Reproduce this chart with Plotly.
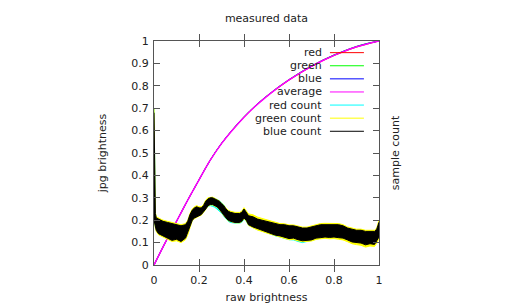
import plotly.graph_objects as go

# ---- data -------------------------------------------------------------
curve_x = [0, 0.05, 0.1, 0.15, 0.2, 0.25, 0.3, 0.35, 0.4, 0.45, 0.5,
           0.55, 0.6, 0.65, 0.7, 0.75, 0.8, 0.85, 0.9, 0.95, 1.0]
red_y = [0, 0.10, 0.195, 0.29, 0.38, 0.468, 0.542, 0.604, 0.66, 0.709, 0.752,
         0.79, 0.825, 0.857, 0.886, 0.912, 0.935, 0.955, 0.973, 0.987, 1.0]
green_y = [0, 0.10, 0.195, 0.29, 0.381, 0.469, 0.543, 0.606, 0.662, 0.711, 0.754,
           0.793, 0.828, 0.86, 0.889, 0.915, 0.938, 0.958, 0.976, 0.99, 1.0]
blue_y = [0, 0.10, 0.195, 0.29, 0.38, 0.468, 0.543, 0.605, 0.661, 0.71, 0.753,
          0.792, 0.827, 0.859, 0.888, 0.914, 0.937, 0.957, 0.975, 0.989, 1.0]
avg_y = [0, 0.10, 0.195, 0.29, 0.38, 0.468, 0.542, 0.604, 0.66, 0.709, 0.752,
         0.791, 0.826, 0.858, 0.887, 0.913, 0.936, 0.956, 0.974, 0.988, 1.0]

count_x = [0.0, 0.003, 0.006, 0.01, 0.02, 0.04, 0.06, 0.08, 0.1, 0.12, 0.14,
           0.15, 0.16, 0.17, 0.18, 0.19, 0.2, 0.21, 0.22, 0.23, 0.24, 0.25,
           0.26, 0.27, 0.28, 0.29, 0.3, 0.31, 0.32, 0.33, 0.34, 0.36, 0.38,
           0.39, 0.4, 0.41, 0.42, 0.44, 0.46, 0.48, 0.5, 0.52, 0.54, 0.56,
           0.58, 0.6, 0.62, 0.64, 0.66, 0.68, 0.7, 0.72, 0.74, 0.76, 0.78,
           0.8, 0.82, 0.84, 0.86, 0.88, 0.9, 0.92, 0.94, 0.96, 0.98, 0.99, 1.0]

blue_lo = [0.20, 0.19, 0.17, 0.155, 0.14, 0.13, 0.12, 0.11, 0.115, 0.105, 0.12,
           0.14, 0.17, 0.2, 0.21, 0.215, 0.22, 0.225, 0.235, 0.25, 0.265, 0.27,
           0.27, 0.265, 0.26, 0.25, 0.24, 0.225, 0.21, 0.2, 0.195, 0.19, 0.19,
           0.195, 0.21, 0.2, 0.18, 0.17, 0.16, 0.155, 0.148, 0.14, 0.133, 0.13,
           0.125, 0.118, 0.12, 0.113, 0.108, 0.11, 0.112, 0.12, 0.122, 0.125, 0.123,
           0.125, 0.122, 0.12, 0.112, 0.103, 0.1, 0.098, 0.09, 0.095, 0.092, 0.105, 0.125]
blue_hi = [0.68, 0.45, 0.23, 0.21, 0.205, 0.195, 0.19, 0.185, 0.18, 0.175, 0.18,
           0.195, 0.225, 0.245, 0.255, 0.26, 0.255, 0.255, 0.265, 0.285, 0.295, 0.3,
           0.3, 0.295, 0.29, 0.285, 0.275, 0.265, 0.25, 0.24, 0.235, 0.23, 0.23,
           0.235, 0.25, 0.235, 0.22, 0.215, 0.205, 0.2, 0.195, 0.19, 0.185, 0.18,
           0.18, 0.175, 0.175, 0.17, 0.165, 0.165, 0.17, 0.175, 0.18, 0.18, 0.18,
           0.18, 0.18, 0.175, 0.165, 0.16, 0.155, 0.155, 0.15, 0.15, 0.15, 0.16, 0.19]

red_lo = [0.21, 0.20, 0.17, 0.155, 0.14, 0.13, 0.12, 0.115, 0.115, 0.11, 0.12,
          0.14, 0.17, 0.2, 0.21, 0.215, 0.22, 0.225, 0.235, 0.25, 0.262, 0.265,
          0.262, 0.258, 0.25, 0.242, 0.232, 0.218, 0.205, 0.195, 0.19, 0.187, 0.187,
          0.19, 0.205, 0.195, 0.178, 0.168, 0.158, 0.152, 0.145, 0.138, 0.13, 0.125,
          0.12, 0.113, 0.112, 0.105, 0.1, 0.103, 0.108, 0.115, 0.12, 0.122, 0.12,
          0.122, 0.12, 0.118, 0.11, 0.103, 0.1, 0.097, 0.092, 0.094, 0.092, 0.105, 0.125]
red_hi = [0.70, 0.45, 0.23, 0.21, 0.205, 0.195, 0.19, 0.185, 0.18, 0.175, 0.18,
          0.195, 0.225, 0.245, 0.255, 0.26, 0.255, 0.257, 0.267, 0.287, 0.297, 0.3,
          0.3, 0.297, 0.292, 0.287, 0.278, 0.268, 0.252, 0.242, 0.236, 0.23, 0.23,
          0.235, 0.25, 0.235, 0.22, 0.213, 0.203, 0.198, 0.193, 0.188, 0.182, 0.178,
          0.177, 0.172, 0.172, 0.168, 0.163, 0.163, 0.168, 0.173, 0.178, 0.178, 0.178,
          0.178, 0.178, 0.173, 0.163, 0.158, 0.153, 0.153, 0.148, 0.148, 0.148, 0.158, 0.19]

green_lo = [0.21, 0.19, 0.165, 0.15, 0.135, 0.125, 0.115, 0.105, 0.108, 0.1, 0.113,
            0.135, 0.165, 0.197, 0.207, 0.212, 0.218, 0.222, 0.233, 0.248, 0.263, 0.268,
            0.268, 0.263, 0.258, 0.248, 0.238, 0.223, 0.208, 0.198, 0.193, 0.188, 0.188,
            0.193, 0.207, 0.197, 0.177, 0.166, 0.156, 0.15, 0.143, 0.135, 0.128, 0.124,
            0.119, 0.113, 0.114, 0.108, 0.104, 0.105, 0.107, 0.114, 0.117, 0.119, 0.117,
            0.118, 0.115, 0.112, 0.104, 0.095, 0.091, 0.088, 0.08, 0.085, 0.083, 0.097, 0.12]
green_hi = [0.70, 0.47, 0.235, 0.215, 0.21, 0.2, 0.195, 0.19, 0.185, 0.18, 0.185,
            0.2, 0.23, 0.25, 0.26, 0.265, 0.26, 0.26, 0.27, 0.29, 0.3, 0.303,
            0.303, 0.298, 0.292, 0.286, 0.276, 0.267, 0.253, 0.244, 0.24, 0.235, 0.235,
            0.24, 0.256, 0.243, 0.228, 0.224, 0.214, 0.208, 0.202, 0.196, 0.19, 0.185,
            0.184, 0.179, 0.179, 0.174, 0.169, 0.169, 0.174, 0.18, 0.185, 0.186, 0.186,
            0.186, 0.185, 0.18, 0.17, 0.165, 0.16, 0.16, 0.155, 0.155, 0.155, 0.165, 0.2]

legend_names = ["red", "green", "blue", "average",
                "red count", "green count", "blue count"]
legend_colors = ["#ff0000", "#00ff00", "#0000ff", "#ff00ff",
                 "#00ffff", "#ffff00", "#000000"]

x_ticks = [0, 0.2, 0.4, 0.6, 0.8, 1.0]
x_ticktext = ["0", "0.2", "0.4", "0.6", "0.8", "1"]
y_ticks = [0, 0.1, 0.2, 0.3, 0.4, 0.5, 0.6, 0.7, 0.8, 0.9, 1.0]
y_ticktext = ["0", "0.1", "0.2", "0.3", "0.4", "0.5", "0.6", "0.7", "0.8", "0.9", "1"]

# ---- figure -----------------------------------------------------------
FONT = "DejaVu Sans"
AX = "#555555"
TXT = "#222222"
fig = go.Figure()

def band(lo, hi, color):
    fig.add_trace(go.Scatter(
        x=count_x + count_x[::-1], y=hi + lo[::-1], mode="lines",
        fill="toself", fillcolor=color, line=dict(color=color, width=1),
        yaxis="y2", showlegend=False, hoverinfo="skip"))

band(red_lo, red_hi, legend_colors[4])
band(green_lo, green_hi, legend_colors[5])
band(blue_lo, blue_hi, legend_colors[6])

for ys, col, w in [(red_y, legend_colors[0], 1), (green_y, legend_colors[1], 1),
                   (blue_y, legend_colors[2], 1), (avg_y, legend_colors[3], 1.5)]:
    fig.add_trace(go.Scatter(x=curve_x, y=ys, mode="lines", line=dict(color=col, width=w),
                             line_shape="spline", showlegend=False))

# gnuplot-style key: text right-aligned, sample line on its right
annotations = []
shapes = []
row0, step = 0.948, 0.0585
for i, (name, col) in enumerate(zip(legend_names, legend_colors)):
    yy = row0 - i * step
    annotations.append(dict(xref="paper", yref="paper", x=0.757, y=yy, text=name,
                            showarrow=False, xanchor="right", yanchor="middle",
                            font=dict(family=FONT, size=11, color=TXT)))
    shapes.append(dict(type="line", xref="paper", yref="paper", x0=0.782, x1=0.933,
                       y0=yy, y1=yy, line=dict(color=col, width=1)))

axis_common = dict(showline=True, linecolor=AX, linewidth=1, ticks="inside", ticklen=6,
                   tickcolor=AX, showgrid=False, zeroline=False, mirror="allticks",
                   automargin=False, tickfont=dict(family=FONT, size=11, color=TXT))

fig.update_layout(
    width=512, height=307,
    margin=dict(l=154, r=133, t=41, b=42, autoexpand=False),
    paper_bgcolor="white", plot_bgcolor="white",
    showlegend=False,
    title=dict(text="measured data", x=0.5, xref="paper", y=1 - 18 / 307, yref="container",
               xanchor="center", yanchor="middle",
               font=dict(family=FONT, size=11, color=TXT)),
    xaxis=dict(range=[0, 1], tickvals=x_ticks, ticktext=x_ticktext, ticklabelstandoff=5,
               title=dict(text="raw brightness", font=dict(family=FONT, size=11, color=TXT),
                          standoff=7), **axis_common),
    yaxis=dict(range=[0, 1], tickvals=y_ticks, ticktext=y_ticktext, ticklabelstandoff=2,
               title=dict(text="jpg brightness", font=dict(family=FONT, size=11, color=TXT),
                          standoff=22), **axis_common),
    yaxis2=dict(range=[0, 1], overlaying="y", side="right", tickvals=y_ticks,
                showticklabels=False, showline=False, ticks="inside", ticklen=6, tickcolor=AX,
                showgrid=False, zeroline=False, automargin=False,
                title=dict(text="sample count", font=dict(family=FONT, size=11, color=TXT),
                           standoff=12)),
    annotations=annotations, shapes=shapes,
)

fig.write_html("out.html")
